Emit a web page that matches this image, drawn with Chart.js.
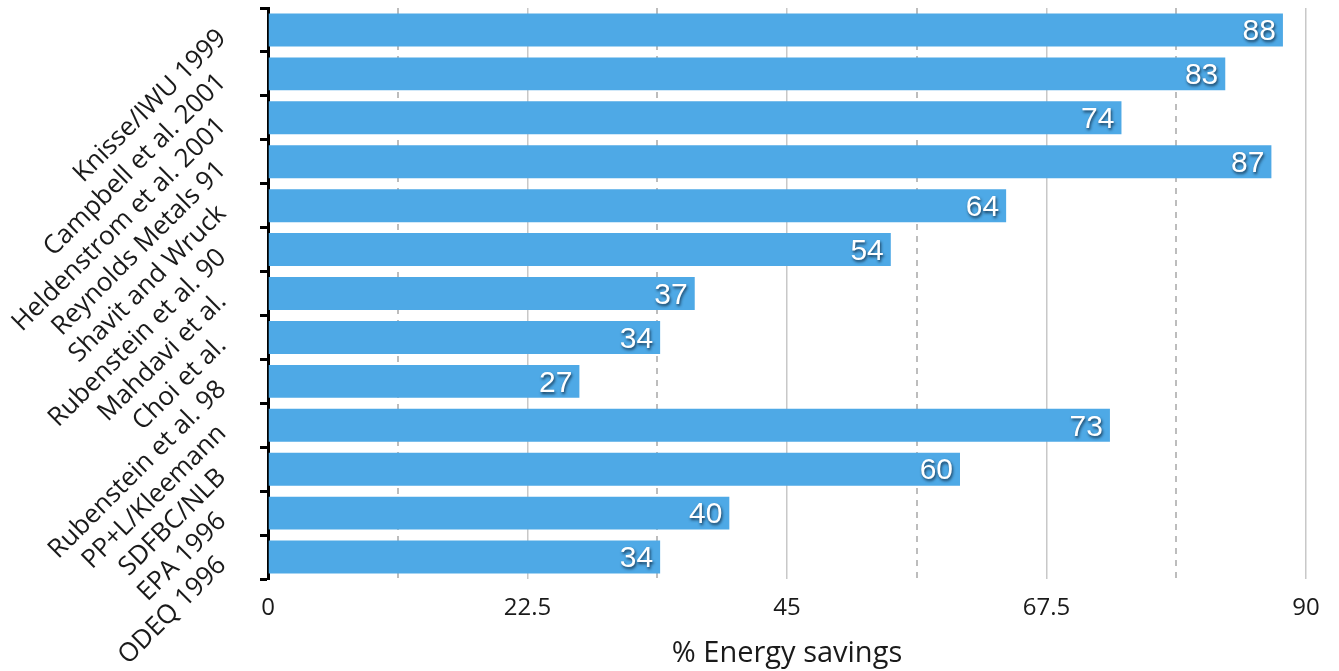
<!DOCTYPE html>
<html>
<head>
<meta charset="utf-8">
<script src="https://cdn.jsdelivr.net/npm/chart.js@4/dist/chart.umd.min.js"></script>
<style>
  html, body { margin: 0; padding: 0; background: #fff; }
  #wrap { width: 1339px; height: 671px; }
</style>
</head>
<body>
<div id="wrap"><canvas id="c" width="1339" height="671"></canvas></div>
<script>
// Studies reporting energy savings
const studies = [
  'Knisse/IWU 1999',
  'Campbell et al. 2001',
  'Heldenstrom et al. 2001',
  'Reynolds Metals 91',
  'Shavit and Wruck',
  'Rubenstein et al. 90',
  'Mahdavi et al.',
  'Choi et al.',
  'Rubenstein et al. 98',
  'PP+L/Kleemann',
  'SDFBC/NLB',
  'EPA 1996',
  'ODEQ 1996'
];
const savings = [88, 83, 74, 87, 64, 54, 37, 34, 27, 73, 60, 40, 34];
const majorTicks = [0, 22.5, 45, 67.5, 90];
const minorTicks = [11.25, 33.75, 56.25, 78.75];
const axisTitle = '% Energy savings';

const textFont = '"Open Sans", "Noto Sans", sans-serif';

// White value labels with a soft dark shadow at the end of each bar
const valueLabels = {
  id: 'valueLabels',
  afterDatasetsDraw(chart) {
    const ctx = chart.ctx;
    const meta = chart.getDatasetMeta(0);
    ctx.save();
    ctx.font = '30px "Liberation Sans", Arial, sans-serif';
    ctx.textAlign = 'right';
    ctx.textBaseline = 'middle';
    ctx.fillStyle = '#ffffff';
    ctx.shadowColor = 'rgba(10,30,50,0.8)';
    ctx.shadowOffsetX = 1;
    ctx.shadowOffsetY = 2;
    ctx.shadowBlur = 3;
    meta.data.forEach((bar, i) => {
      ctx.fillText(String(savings[i]), bar.x - 7, bar.y + 2);
    });
    ctx.restore();
  }
};

new Chart(document.getElementById('c'), {
  type: 'bar',
  data: {
    labels: studies,
    datasets: [{
      data: savings,
      backgroundColor: '#4ea9e6',
      borderWidth: 0,
      categoryPercentage: 1,
      barPercentage: 0.75
    }]
  },
  options: {
    indexAxis: 'y',
    responsive: false,
    animation: false,
    devicePixelRatio: 1,
    layout: { padding: { top: 8, right: 33, left: 0, bottom: 0 } },
    plugins: {
      legend: { display: false },
      tooltip: { enabled: false }
    },
    scales: {
      x: {
        type: 'linear',
        position: 'bottom',
        min: 0,
        max: 90,
        afterBuildTicks: s => { s.ticks = majorTicks.map(v => ({ value: v })); },
        afterFit: s => { s.height = 92; },
        grid: { color: '#c8c8c8', lineWidth: 1.5, drawTicks: false },
        border: { display: false },
        ticks: {
          color: '#1a1a1a',
          padding: 15,
          font: { family: textFont, size: 24 },
          callback: v => String(v)
        },
        title: {
          display: true,
          text: axisTitle,
          color: '#1a1a1a',
          font: { family: textFont, size: 29 },
          padding: { top: 0, bottom: 0 }
        }
      },
      x2: {
        type: 'linear',
        position: 'bottom',
        min: 0,
        max: 90,
        afterBuildTicks: s => { s.ticks = minorTicks.map(v => ({ value: v })); },
        afterFit: s => { s.height = 0; },
        grid: { color: '#bdbdbd', lineWidth: 2, drawTicks: false },
        border: { display: false, dash: [6, 6] },
        ticks: { display: false }
      },
      y: {
        type: 'category',
        offset: true,
        afterFit: s => { s.width = 268; s.paddingTop = 0; s.paddingBottom = 0; },
        grid: {
          offset: true,
          drawOnChartArea: false,
          drawTicks: true,
          tickLength: 8,
          tickColor: '#000',
          tickWidth: 3
        },
        border: { display: true, color: '#000', width: 3 },
        ticks: {
          minRotation: 45,
          maxRotation: 45,
          padding: 38,
          labelOffset: 4,
          autoSkip: false,
          color: '#1a1a1a',
          font: { family: textFont, size: 26 }
        }
      }
    }
  },
  plugins: [valueLabels]
});
</script>
</body>
</html>
